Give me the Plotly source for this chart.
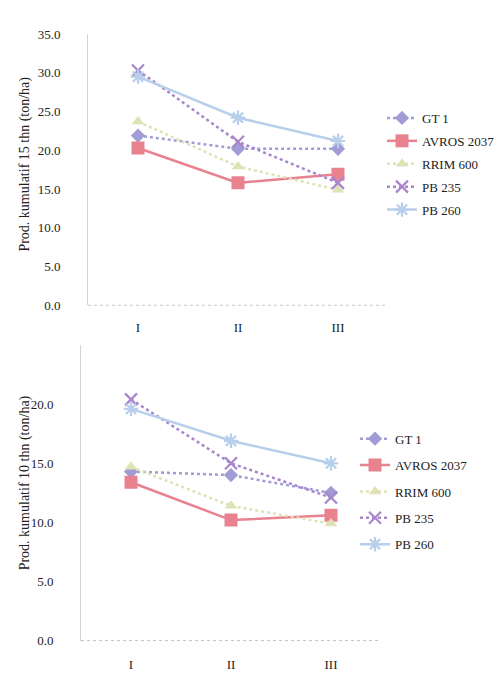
import plotly.graph_objects as go

categories = ["I", "II", "III"]
series_names = ["GT 1", "AVROS 2037", "RRIM 600", "PB 235", "PB 260"]

# Prod. kumulatif 15 thn (ton/ha)
top_gt1 = [21.9, 20.2, 20.2]
top_avros = [20.3, 15.8, 16.9]
top_rrim = [23.7, 17.9, 14.9]
top_pb235 = [30.3, 21.1, 15.8]
top_pb260 = [29.5, 24.2, 21.2]

# Prod. kumulatif 10 thn (ton/ha)
bot_gt1 = [14.3, 14.0, 12.5]
bot_avros = [13.4, 10.2, 10.6]
bot_rrim = [14.7, 11.4, 9.9]
bot_pb235 = [20.4, 15.0, 12.1]
bot_pb260 = [19.6, 16.9, 15.0]

top_tickvals = [0, 5, 10, 15, 20, 25, 30, 35]
bot_tickvals = [0, 5, 10, 15, 20]

top_vals = [top_gt1, top_avros, top_rrim, top_pb235, top_pb260]
bot_vals = [bot_gt1, bot_avros, bot_rrim, bot_pb235, bot_pb260]

colors = ["#a19cd6", "#e8828f", "#dfe2b4", "#a985cc", "#b7cfea"]
symbols = ["diamond", "square", "triangle-up", "x-thin-open", "asterisk-open"]
dashes = ["dot", "solid", "dot", "dot", "solid"]
sizes = [11, 13, 11, 12, 12]

FONT = "Liberation Serif, Times New Roman, serif"
TXT = "#222222"
W, H = 503, 673

fig = go.Figure()

for panel, vals, xa, ya, lg in [("t", top_vals, "x", "y", "legend"),
                                ("b", bot_vals, "x2", "y2", "legend2")]:
    for i, name in enumerate(series_names):
        open_sym = symbols[i].endswith("open")
        fig.add_trace(go.Scatter(
            x=categories, y=vals[i], name=name, mode="lines+markers",
            xaxis=xa, yaxis=ya, legend=lg, legendgroup=panel + str(i),
            line=dict(color=colors[i], width=2.5, dash=dashes[i]),
            marker=dict(symbol=symbols[i], size=sizes[i],
                        color=colors[i],
                        line=dict(color=colors[i], width=2.2 if open_sym else 0)),
        ))

def px_x(p):
    return p / W

def px_y(p):
    return 1 - p / H

axis_common = dict(showgrid=False, zeroline=False, ticks="",
                   tickfont=dict(family=FONT, size=13, color=TXT))

fig.update_layout(
    width=W, height=H,
    margin=dict(l=0, r=0, t=0, b=0),
    paper_bgcolor="white", plot_bgcolor="white",
    font=dict(family=FONT, size=13, color=TXT),
    xaxis=dict(domain=[px_x(80), px_x(378)], anchor="y", type="category",
               range=[-0.5, 2.48], showline=False, ticklabelstandoff=13,
               **axis_common),
    yaxis=dict(domain=[px_y(297), px_y(19.4)], anchor="x", range=[0, 35],
               tickvals=top_tickvals, tickformat=".1f", showline=True,
               linecolor="#d4d4d4", linewidth=1, ticklabelstandoff=24,
               **axis_common),
    xaxis2=dict(domain=[px_x(73), px_x(371)], anchor="y2", type="category",
                range=[-0.5, 2.48], showline=False, ticklabelstandoff=14,
                **axis_common),
    yaxis2=dict(domain=[px_y(640), px_y(337.5)], anchor="x2", range=[0, 25],
                tickvals=bot_tickvals, tickformat=".1f", showline=True,
                linecolor="#d4d4d4", linewidth=1, ticklabelstandoff=24,
                **axis_common),
    legend=dict(x=px_x(374), y=px_y(90), xanchor="left", yanchor="top",
                bgcolor="rgba(0,0,0,0)", tracegroupgap=3,
                font=dict(family=FONT, size=13, color=TXT)),
    legend2=dict(x=px_x(347), y=px_y(418), xanchor="left", yanchor="top",
                 bgcolor="rgba(0,0,0,0)", tracegroupgap=6.5,
                 font=dict(family=FONT, size=13, color=TXT)),
    showlegend=True,
)

for xa, ya in [("x", "y"), ("x2", "y2")]:
    fig.add_shape(type="line", xref=xa + " domain", yref=ya,
                  x0=0, x1=1, y0=0, y1=0,
                  line=dict(color="#9a9a9a", width=1, dash="dot"))

fig.add_annotation(text="Prod. kumulatif 15 thn (ton/ha)", textangle=-90,
                   xref="paper", yref="paper", x=px_x(17), y=px_y(153),
                   xanchor="center", yanchor="middle",
                   showarrow=False, font=dict(family=FONT, size=14, color=TXT))
fig.add_annotation(text="Prod. kumulatif 10 thn (ton/ha)", textangle=-90,
                   xref="paper", yref="paper", x=px_x(17), y=px_y(479),
                   xanchor="center", yanchor="middle",
                   showarrow=False, font=dict(family=FONT, size=14, color=TXT))

fig.write_html("out.html")
